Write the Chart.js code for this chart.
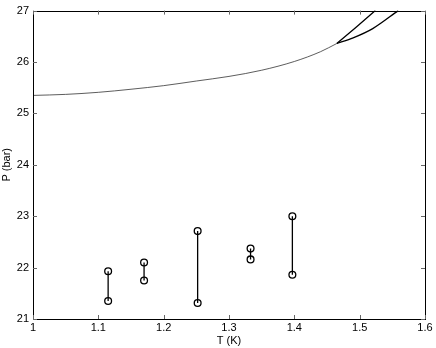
<!DOCTYPE html>
<html><head><meta charset="utf-8">
<script src="https://cdn.jsdelivr.net/npm/chart.js@4/dist/chart.umd.min.js"></script>
<style>html,body{margin:0;padding:0;background:#fff}#wrap{width:436px;height:348px}</style>
</head><body><div id="wrap"><canvas id="c" width="436" height="348"></canvas></div>
<script>
const curveT = [1.0, 1.05, 1.1, 1.15, 1.2, 1.25, 1.3, 1.35, 1.4, 1.44, 1.465];
const curveP = [25.35, 25.37, 25.41, 25.47, 25.54, 25.63, 25.72, 25.84, 26.01, 26.2, 26.36];
const upperT = [1.465, 1.495, 1.524];
const upperP = [26.36, 26.68, 27.0];
const lowerT = [1.465, 1.49, 1.52, 1.559];
const lowerP = [26.36, 26.47, 26.65, 27.0];
const barT = [1.115, 1.17, 1.252, 1.333, 1.397];
const barLow = [21.35, 21.75, 21.31, 22.16, 21.86];
const barHigh = [21.93, 22.1, 22.71, 22.37, 23.0];
const xTicks = [1, 1.1, 1.2, 1.3, 1.4, 1.5, 1.6];
const yTicks = [21, 22, 23, 24, 25, 26, 27];

const pts = (xs, ys) => xs.map((x, i) => ({x, y: ys[i]}));
const datasets = [
  {data: pts(curveT, curveP), borderColor: '#333', borderWidth: 0.8, pointRadius: 0, showLine: true, cubicInterpolationMode: 'monotone'},
  {data: pts(upperT, upperP), borderColor: '#000', borderWidth: 1.3, pointRadius: 0, showLine: true},
  {data: pts(lowerT, lowerP), borderColor: '#000', borderWidth: 1.3, pointRadius: 0, showLine: true, cubicInterpolationMode: 'monotone'},
];
barT.forEach((t, i) => {
  datasets.push({data: [{x: t, y: barLow[i]}, {x: t, y: barHigh[i]}], borderColor: '#000', borderWidth: 1.3,
    showLine: true, pointRadius: 3.4, pointBorderWidth: 1.3, pointBorderColor: '#000', pointBackgroundColor: 'rgba(0,0,0,0)'});
});

const boxTicks = {
  id: 'boxTicks',
  afterDraw(chart) {
    const {ctx, chartArea: a, scales: {x, y}} = chart;
    ctx.save();
    ctx.strokeStyle = '#000';
    ctx.lineWidth = 1;
    ctx.strokeRect(Math.round(a.left) + 0.5, Math.round(a.top) + 0.5, Math.round(a.right - a.left), Math.round(a.bottom - a.top));
    ctx.strokeStyle = '#666';
    const L = 4;
    xTicks.forEach(v => {
      const px = Math.round(x.getPixelForValue(v)) + 0.5;
      ctx.beginPath(); ctx.moveTo(px, a.bottom); ctx.lineTo(px, a.bottom - L); ctx.stroke();
      ctx.beginPath(); ctx.moveTo(px, a.top); ctx.lineTo(px, a.top + L); ctx.stroke();
    });
    yTicks.forEach(v => {
      const py = Math.round(y.getPixelForValue(v)) + 0.5;
      ctx.beginPath(); ctx.moveTo(a.left, py); ctx.lineTo(a.left + L, py); ctx.stroke();
      ctx.beginPath(); ctx.moveTo(a.right, py); ctx.lineTo(a.right - L, py); ctx.stroke();
    });
    ctx.restore();
  }
};

Chart.defaults.font.family = '"Liberation Sans", Arial, sans-serif';
Chart.defaults.font.size = 11;
Chart.defaults.color = '#000';

new Chart(document.getElementById('c'), {
  type: 'scatter',
  data: {datasets},
  options: {
    responsive: false,
    animation: false,
    layout: {padding: {top: 9, right: 11, left: 0, bottom: 0}},
    plugins: {legend: {display: false}, tooltip: {enabled: false}},
    scales: {
      x: {
        type: 'linear', min: 1, max: 1.6,
        afterFit: s => { s.height = 29; },
        afterBuildTicks: s => { s.ticks = xTicks.map(v => ({value: v})); },
        grid: {display: false, drawTicks: false},
        border: {display: false},
        ticks: {padding: 2, autoSkip: false, maxRotation: 0, callback: v => String(+(+v).toFixed(1))},
        title: {display: true, text: 'T (K)', padding: {top: 0, bottom: 0}}
      },
      y: {
        type: 'linear', min: 21, max: 27,
        afterFit: s => { s.width = 33; },
        afterBuildTicks: s => { s.ticks = yTicks.map(v => ({value: v})); },
        grid: {display: false, drawTicks: false},
        border: {display: false},
        ticks: {padding: 4, autoSkip: false, callback: v => String(v)},
        title: {display: true, text: 'P (bar)', padding: {top: 0, bottom: 0}}
      }
    }
  },
  plugins: [boxTicks]
});
</script></body></html>
